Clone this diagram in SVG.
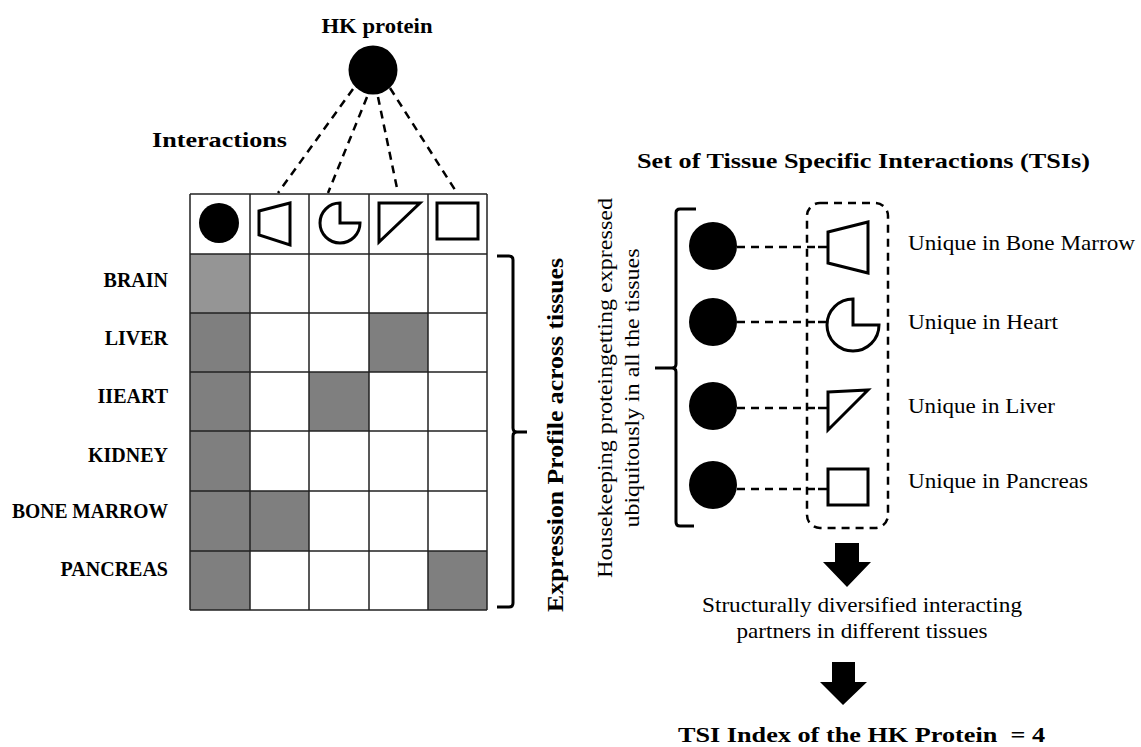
<svg xmlns="http://www.w3.org/2000/svg" width="1141" height="747" viewBox="0 0 1141 747">
  <style>
    .bold { font-family: "Liberation Serif", "Times New Roman", serif; font-weight: bold; fill: #000; }
    .reg { font-family: "Liberation Serif", "Times New Roman", serif; fill: #000; }
    .grid { stroke: #222; stroke-width: 1.5; fill: none; }
    .on { fill: #7f7f7f; }
    .on-light { fill: #959595; }
    .shape { fill: #fff; stroke: #000; stroke-width: 3; stroke-linejoin: miter; }
    .dash { stroke: #000; stroke-width: 2.5; stroke-dasharray: 8 6; fill: none; }
    .solid { stroke: #000; stroke-width: 2.5; fill: none; }
    .brace { stroke: #000; stroke-width: 3; fill: none; stroke-linejoin: round; }
  </style>

  <rect width="1141" height="747" fill="#fff"/>

  <!-- hub protein -->
  <g id="hk-protein">
    <text class="bold" x="377" y="33" font-size="21" text-anchor="middle" textLength="111" lengthAdjust="spacingAndGlyphs">HK protein</text>
    <circle cx="373" cy="70" r="24.5" fill="#000"/>
  </g>

  <g id="interactions-label">
    <text class="bold" x="152" y="147" font-size="21" textLength="135" lengthAdjust="spacingAndGlyphs">Interactions</text>
  </g>

  <!-- connectors -->
  <g id="connectors">
    <line class="dash" x1="353" y1="89" x2="278" y2="193"/>
    <line class="dash" x1="367" y1="97" x2="328" y2="193"/>
    <line class="dash" x1="378" y1="97" x2="398" y2="193"/>
    <line class="dash" x1="390" y1="88" x2="457" y2="193"/>

    <line class="dash" x1="737" y1="247" x2="818" y2="247"/>
    <line class="dash" x1="737" y1="322" x2="818" y2="322"/>
    <line class="dash" x1="737" y1="408" x2="818" y2="408"/>
    <line class="dash" x1="737" y1="489" x2="818" y2="489"/>
    <line class="solid" x1="818" y1="247" x2="828" y2="247"/>
    <line class="solid" x1="818" y1="322" x2="828" y2="322"/>
    <line class="solid" x1="818" y1="408" x2="828" y2="408"/>
    <line class="solid" x1="818" y1="489" x2="828" y2="489"/>
  </g>

  <!-- expression matrix -->
  <g id="matrix">
    <rect class="on-light" x="190" y="254" width="60" height="59"/>
    <rect class="on" x="190" y="313" width="60" height="297"/>
    <rect class="on" x="369" y="313" width="59" height="59"/>
    <rect class="on" x="309" y="372" width="60" height="59"/>
    <rect class="on" x="250" y="491" width="59" height="60"/>
    <rect class="on" x="428" y="551" width="59" height="59"/>
    <path class="grid" d="M190,194 V610 M250,194 V610 M309,194 V610 M369,194 V610 M428,194 V610 M487,194 V610
                          M190,194 H487 M190,254 H487 M190,313 H487 M190,372 H487 M190,431 H487 M190,491 H487 M190,551 H487 M190,610 H487"/>
  </g>

  <g id="header-icons">
    <circle cx="219" cy="223" r="20" fill="#000"/>
    <polygon class="shape" points="259,211 290,203 290,245 259,235"/>
    <path class="shape" d="M340,203 V223 H360 A20,20 0 1 1 340,203 Z"/>
    <polygon class="shape" points="379,203 420,203 379,242"/>
    <rect class="shape" x="437" y="203" width="41" height="36"/>
  </g>

  <g id="tissue-labels">
    <text class="bold" x="168" y="287" font-size="20" text-anchor="end">BRAIN</text>
    <text class="bold" x="168" y="345" font-size="20" text-anchor="end">LIVER</text>
    <text class="bold" x="168" y="403" font-size="20" text-anchor="end">IIEART</text>
    <text class="bold" x="168" y="462" font-size="20" text-anchor="end">KIDNEY</text>
    <text class="bold" x="168" y="518" font-size="20" text-anchor="end" textLength="156" lengthAdjust="spacingAndGlyphs">BONE MARROW</text>
    <text class="bold" x="168" y="576" font-size="20" text-anchor="end">PANCREAS</text>
  </g>

  <g id="expression-brace">
    <path class="brace" d="M497,256 H509 Q513,256 513,260 V428 Q513,432 517,432 H527 M517,432 Q513,432 513,436 V603 Q513,607 509,607 H497"/>
    <text class="bold" transform="translate(563,435) rotate(-90)" font-size="24" text-anchor="middle" textLength="354" lengthAdjust="spacingAndGlyphs">Expression Profile across tissues</text>
  </g>

  <!-- right panel -->
  <g id="tsi-title">
    <text class="bold" x="637" y="168" font-size="21" textLength="453" lengthAdjust="spacingAndGlyphs">Set of Tissue Specific Interactions (TSIs)</text>
  </g>

  <g id="housekeeping-brace">
    <text class="reg" transform="translate(612,388) rotate(-90)" font-size="21" text-anchor="middle" textLength="380" lengthAdjust="spacingAndGlyphs">Housekeeping proteingetting expressed</text>
    <text class="reg" transform="translate(639,388) rotate(-90)" font-size="21" text-anchor="middle" textLength="279" lengthAdjust="spacingAndGlyphs">ubiquitously in all the tissues</text>
    <path class="brace" d="M696,209 H680 Q676,209 676,213 V364 Q676,368 672,368 H655 M672,368 Q676,368 676,372 V522 Q676,526 680,526 H694"/>
  </g>

  <g id="hk-copies">
    <circle cx="713" cy="246" r="24" fill="#000"/>
    <circle cx="713" cy="322" r="24" fill="#000"/>
    <circle cx="713" cy="406" r="24" fill="#000"/>
    <circle cx="713" cy="485" r="24" fill="#000"/>
  </g>

  <g id="tsi-set">
    <rect class="dash" x="807" y="203" width="81" height="325" rx="13"/>
    <polygon class="shape" points="828,232 868,222 868,273 828,263"/>
    <path class="shape" d="M853,299 V325 H879 A26,26 0 1 1 853,299 Z"/>
    <polygon class="shape" points="828,392 868,390 828,430"/>
    <rect class="shape" x="828" y="469" width="40" height="36"/>
  </g>

  <g id="unique-labels">
    <text class="reg" x="908" y="250" font-size="22" textLength="227" lengthAdjust="spacingAndGlyphs">Unique in Bone Marrow</text>
    <text class="reg" x="908" y="329" font-size="22" textLength="150" lengthAdjust="spacingAndGlyphs">Unique in Heart</text>
    <text class="reg" x="908" y="413" font-size="22" textLength="147" lengthAdjust="spacingAndGlyphs">Unique in Liver</text>
    <text class="reg" x="908" y="488" font-size="22" textLength="180" lengthAdjust="spacingAndGlyphs">Unique in Pancreas</text>
  </g>

  <g id="arrow-1">
    <polygon fill="#000" points="835,543 859,543 859,562 871,562 847,587 823,562 835,562"/>
  </g>

  <g id="outcome-text">
    <text class="reg" x="862" y="612" font-size="21" text-anchor="middle" textLength="320" lengthAdjust="spacingAndGlyphs">Structurally diversified interacting</text>
    <text class="reg" x="862" y="638" font-size="21" text-anchor="middle" textLength="251" lengthAdjust="spacingAndGlyphs">partners in different tissues</text>
  </g>

  <g id="arrow-2">
    <polygon fill="#000" points="832,662 855,662 855,682 867,682 843,705 820,682 832,682"/>
  </g>

  <g id="tsi-index">
    <text class="bold" x="678" y="742" font-size="22" textLength="367" lengthAdjust="spacingAndGlyphs" xml:space="preserve">TSI Index of the HK Protein  = 4</text>
  </g>
</svg>
